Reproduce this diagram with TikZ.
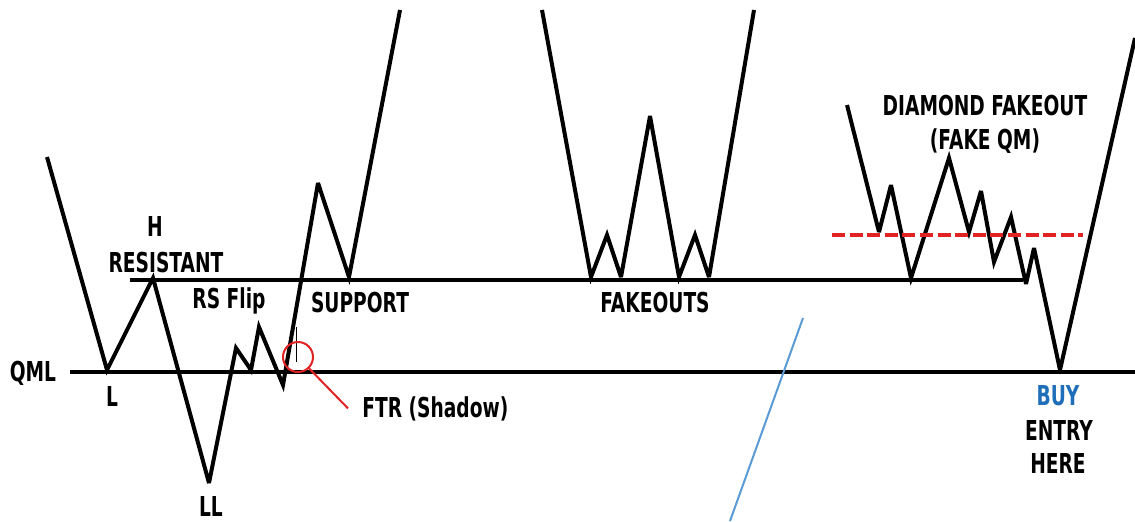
\documentclass[tikz,border=0pt]{standalone}
\usepackage{fontspec}
\setmainfont{DejaVu Sans}[FakeStretch=0.68]
\usepackage{xcolor}
\usetikzlibrary{positioning}
\definecolor{SignalRed}{RGB}{225,35,35}
\definecolor{BuyBlue}{RGB}{30,110,185}
\definecolor{TrendBlue}{RGB}{91,155,213}
\tikzset{
    lbl/.style={font=\fontsize{13.7}{16}\selectfont\bfseries, anchor=base, inner sep=0pt},
    level_line/.style={draw=black, line width=2pt},
    price_line/.style={draw=black, line width=2pt, miter limit=4}
}

\begin{document}
\begin{tikzpicture}[
        x=0.5pt, y=-0.5pt,
        % --- STYLE DUONG GIA ---
        fake_line/.style={
            draw=SignalRed,
            line width=2.3pt,
            dash pattern=on 6.5pt off 2.3pt
        },
        % Vong tron FTR
        ftr_ring/.style={
            circle,
            draw=SignalRed,
            line width=1pt,
            minimum size=15pt,
            inner sep=0pt
        },
        % Duong xu huong
        trend_line/.style={
            draw=TrendBlue,
            line width=1pt
        }
    ]

        % --- KHUNG ---
        \useasboundingbox (0,0) rectangle (1135,521);
        \fill[white] (0,0) rectangle (1135,521);

        % --- CAC MUC GIA ---
        \coordinate (qmlStart) at (70,372);
        \coordinate (qmlEnd) at (1135,372);
        \coordinate (resStart) at (130,280);
        \coordinate (resEnd) at (1023,280);
        \draw[level_line] (qmlStart) -- (qmlEnd);
        \draw[level_line] (resStart) -- (resEnd);

        % --- MAU HINH QML ---
        \coordinate (A0) at (47,157);
        \coordinate (L) at (107,370);
        \coordinate (H) at (153,278);
        \coordinate (LL) at (209,483);
        \coordinate (A1) at (236,348);
        \coordinate (A2) at (251,370);
        \coordinate (A3) at (259,327);
        \coordinate (A4) at (283,385);
        \coordinate (A5) at (318,183);
        \coordinate (A6) at (349,277);
        \coordinate (A7) at (400,10);
        \draw[price_line] (A0) -- (L) -- (H) -- (LL) -- (A1) -- (A2) -- (A3)
            -- (A4) -- (A5) -- (A6) -- (A7);

        % Bong nen (shadow)
        \coordinate (wickTop) at (296,327);
        \coordinate (wickBot) at (296,362);
        \draw[line width=0.5pt] (wickTop) -- (wickBot);

        % --- FAKEOUTS ---
        \coordinate (B0) at (542,10);
        \coordinate (B1) at (591,277);
        \coordinate (B2) at (607,235);
        \coordinate (B3) at (621,277);
        \coordinate (B4) at (650,116);
        \coordinate (B5) at (679,277);
        \coordinate (B6) at (695,235);
        \coordinate (B7) at (709,277);
        \coordinate (B8) at (754,10);
        \draw[price_line] (B0) -- (B1) -- (B2) -- (B3) -- (B4) -- (B5) -- (B6)
            -- (B7) -- (B8);

        % --- DIAMOND FAKEOUT ---
        \coordinate (C0) at (847,105);
        \coordinate (C1) at (879,232);
        \coordinate (C2) at (891,185);
        \coordinate (C3) at (911,278);
        \coordinate (C4) at (949,158);
        \coordinate (C5) at (969,232);
        \coordinate (C6) at (981,191);
        \coordinate (C7) at (994,262);
        \coordinate (C8) at (1011,217);
        \coordinate (C9) at (1026,284);
        \coordinate (C10) at (1034,248);
        \coordinate (buyPoint) at (1060,370);
        \coordinate (C11) at (1135,38);
        \draw[price_line] (C0) -- (C1) -- (C2) -- (C3) -- (C4) -- (C5) -- (C6)
            -- (C7) -- (C8) -- (C9) -- (C10) -- (buyPoint) -- (C11);

        % Muc fake QM (do, net dut)
        \coordinate (fakeStart) at (832,235);
        \coordinate (fakeEnd) at (1083,235);
        \draw[fake_line] (fakeStart) -- (fakeEnd);

        % --- DUONG XANH ---
        \coordinate (trendTop) at (803,318);
        \coordinate (trendBot) at (730,521);
        \draw[trend_line] (trendTop) -- (trendBot);

        % --- NHAN ---
        \node[lbl] (qml) at (33,381) {QML};
        \node[lbl] (lowL) at (112,406) {L};
        \node[lbl] (highH) at (155,236) {H};
        \node[lbl] (resistant) at (166,272) {RESISTANT};
        \node[lbl] (rsflip) at (229,308) {RS Flip};
        \node[lbl] (support) at (360,312) {SUPPORT};
        \node[lbl] (lowLL) at (211,516) {LL};
        \node[lbl] (fakeouts) at (655,312) {FAKEOUTS};
        \node[lbl] (diamond) at (985,115) {DIAMOND FAKEOUT};
        \node[lbl] (fakeqm) at (985,149) {(FAKE QM)};
        \node[lbl, text=BuyBlue] (buy) at (1058,405) {BUY};
        \node[lbl] (entry) at (1059,440) {ENTRY};
        \node[lbl] (here) at (1058,473) {HERE};

        % --- FTR (Shadow) ---
        \node[ftr_ring] (ftrring) at (298,357) {};
        \node[lbl, anchor=base west, inner xsep=7pt] (ftr) at (348,417) {FTR (Shadow)};
        \draw[SignalRed, line width=1pt] (ftrring) -- (ftr.west);

\end{tikzpicture}
\end{document}
